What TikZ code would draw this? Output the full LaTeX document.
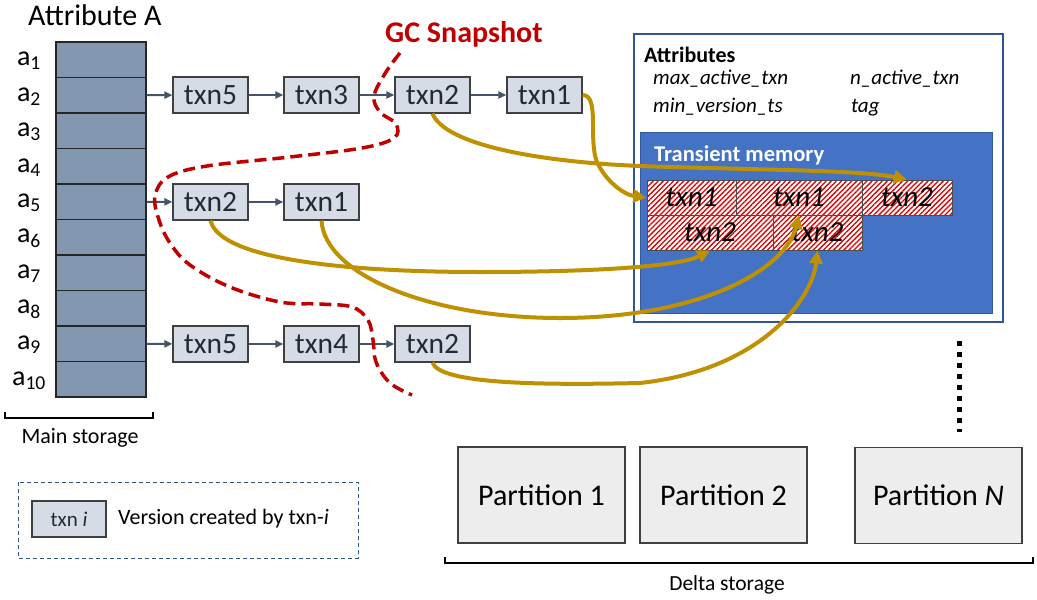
\documentclass[tikz,border=0pt]{standalone}
\usepackage{fontspec}
\setmainfont{Carlito}
\usetikzlibrary{shapes.geometric, arrows.meta, positioning, patterns.meta}
\definecolor{cellblue}{HTML}{8497B0}
\definecolor{txnfill}{HTML}{D6DCE5}
\definecolor{slate}{HTML}{44546A}
\definecolor{darktext}{HTML}{222A35}
\definecolor{gold}{HTML}{BF9000}
\definecolor{gcred}{HTML}{C00000}
\definecolor{tmblue}{HTML}{4472C4}
\definecolor{boxblue}{HTML}{2F5597}
\definecolor{partfill}{HTML}{EDEDED}
\newcommand{\fs}[1]{\fontsize{#1}{#1}\selectfont}

\begin{document}
\begin{tikzpicture}[x=1pt,y=-1pt]
		\tikzstyle{Cell} = [rectangle, minimum width=90pt, minimum height=35.5pt, inner sep=0pt, draw=black!85, line width=1.3pt, fill=cellblue]
		\tikzstyle{Txn} = [rectangle, minimum width=75pt, minimum height=36pt, inner sep=0pt, draw=black!75, line width=1.2pt, fill=txnfill, text=darktext, font=\fs{29.5}]
		\tikzstyle{Hatch} = [rectangle, minimum height=35pt, inner sep=0pt, draw=black!70, line width=1pt, preaction={fill=white}, pattern={Lines[angle=45,distance=3.6pt,line width=1.3pt]}, pattern color=red!85!black, font=\fs{29}\itshape]
		\tikzstyle{Part} = [rectangle, minimum width=167pt, minimum height=96pt, inner sep=0pt, draw=black!75, line width=1.2pt, fill=partfill, font=\fs{30}]
		\tikzstyle{arrow} = [slate, line width=2pt, -{Triangle[length=8pt,width=7pt]}]
		\tikzstyle{gold arrow} = [gold, line width=4pt, -{Triangle[length=13pt,width=13pt]}]
		\tikzstyle{gc line} = [gcred, line width=3.5pt, dash pattern=on 12pt off 6pt]
		\tikzstyle{Label} = [inner sep=0pt, font=\fs{28}]

		\useasboundingbox (0,0) rectangle (1037,600);

		% main storage
		\node [inner sep=0pt, anchor=base west, font=\fs{30}] at (28,25.5) {Attribute A};
		\node (m1) [Cell] at (101,59.75) {};
		\node (m2) [Cell] at (101,95.25) {};
		\node (m3) [Cell] at (101,130.75) {};
		\node (m4) [Cell] at (101,166.25) {};
		\node (m5) [Cell] at (101,201.75) {};
		\node (m6) [Cell] at (101,237.25) {};
		\node (m7) [Cell] at (101,272.75) {};
		\node (m8) [Cell] at (101,308.25) {};
		\node (m9) [Cell] at (101,343.75) {};
		\node (m10) [Cell] at (101,379.25) {};
		\node [Label] at (29,61) {a\textsubscript{1}};
		\node [Label] at (29,96.5) {a\textsubscript{2}};
		\node [Label] at (29,132) {a\textsubscript{3}};
		\node [Label] at (29,167.5) {a\textsubscript{4}};
		\node [Label] at (29,203) {a\textsubscript{5}};
		\node [Label] at (29,238.5) {a\textsubscript{6}};
		\node [Label] at (29,274) {a\textsubscript{7}};
		\node [Label] at (29,309.5) {a\textsubscript{8}};
		\node [Label] at (29,345) {a\textsubscript{9}};
		\node [Label] at (29,380.5) {a\textsubscript{10}};
		\draw [line width=2.5pt] (5,412) -- (5,418) -- (153,418) -- (153,412);
		\node [inner sep=0pt, font=\fs{22}] at (80,438) {Main storage};

		% version chains
		\node (a2t5) [Txn] at (210.5,95) {txn5};
		\node (a2t3) [Txn] at (321.5,95) {txn3};
		\node (a2t2) [Txn] at (432.5,95) {txn2};
		\node (a2t1) [Txn] at (544.5,95) {txn1};
		\node (a5t2) [Txn] at (210.5,202) {txn2};
		\node (a5t1) [Txn] at (321.5,202) {txn1};
		\node (a9t5) [Txn] at (210.5,344) {txn5};
		\node (a9t4) [Txn] at (321.5,344) {txn4};
		\node (a9t2) [Txn] at (432.5,344) {txn2};
		\draw [arrow] (m2) -- (a2t5);
		\draw [arrow] (a2t5) -- (a2t3);
		\draw [arrow] (a2t3) -- (a2t2);
		\draw [arrow] (a2t2) -- (a2t1);
		\draw [arrow] (m5) -- (a5t2);
		\draw [arrow] (a5t2) -- (a5t1);
		\draw [arrow] (m9) -- (a9t5);
		\draw [arrow] (a9t5) -- (a9t4);
		\draw [arrow] (a9t4) -- (a9t2);

		% partition with attributes and transient memory
		\draw [boxblue, line width=1.2pt] (634,34) rectangle (1003,322);
		\node [inner sep=0pt, anchor=base west, font=\fs{22}\bfseries] at (644,62) {Attributes};
		\node [inner sep=0pt, anchor=base west, font=\fs{21}\itshape] at (653,84) {max\_active\_txn};
		\node [inner sep=0pt, anchor=base west, font=\fs{21}\itshape] at (850,84) {n\_active\_txn};
		\node [inner sep=0pt, anchor=base west, font=\fs{21}\itshape] at (653,112) {min\_version\_ts};
		\node [inner sep=0pt, anchor=base west, font=\fs{21}\itshape] at (851,112) {tag};
		\draw [tmblue!80!black, fill=tmblue, line width=1pt] (640,132) rectangle (992,313);
		\node [inner sep=0pt, anchor=base west, text=white, font=\fs{22.5}\bfseries] at (654,161) {Transient memory};
		\node (hA) [Hatch, minimum width=89pt] at (691.5,197.5) {txn1};
		\node (hB) [Hatch, minimum width=126pt] at (799,197.5) {txn1};
		\node (hC) [Hatch, minimum width=90pt] at (907,197.5) {txn2};
		\node (hD) [Hatch, minimum width=126pt] at (710,232.5) {txn2};
		\node (hE) [Hatch, minimum width=89pt] at (817.5,232.5) {txn2};

		% versions moved to transient memory
		\draw [gold arrow] (a2t2.south) .. controls (445,145) and (540,162) .. (640,166) .. controls (760,170) and (860,170) .. (hC.north);
		\draw [gold arrow] (a2t1.east) .. controls (600,95) and (588,140) .. (597,162) .. controls (606,182) and (625,195) .. (hA.west);
		\draw [gold arrow] (a5t2.south) .. controls (220,260) and (350,272) .. (480,272) .. controls (600,272) and (680,266) .. (hD.south);
		\draw [gold arrow] (a5t1.south) .. controls (325,275) and (430,318) .. (560,318) .. controls (700,318) and (785,270) .. (hB.south);
		\draw [gold arrow] (a9t2.south) .. controls (440,385) and (550,385) .. (640,383) .. controls (760,370) and (812,300) .. (hE.south);

		% gc snapshot
		\draw [gc line] plot [smooth, tension=0.6] coordinates {(400,53) (386,72) (374,96) (380,112) (396,124) (394,138) (362,148) (290,157) (207,166) (168,177) (155,196) (159,220) (170,243) (190,265) (230,287) (280,302) (320,304) (352,307) (368,320) (373,340) (376,362) (390,383) (412,395)};
		\node [inner sep=0pt, anchor=base west, text=gcred, font=\fs{30}\bfseries] at (385,42) {GC Snapshot};

		% delta storage
		\draw [line width=5pt, dash pattern=on 5pt off 6pt] (959,341) -- (959,432);
		\node (p1) [Part] at (541.5,495) {Partition 1};
		\node (p2) [Part] at (723.5,495) {Partition 2};
		\node (pn) [Part] at (938.5,495.5) {Partition \textit{N}};
		\draw [line width=2.5pt] (445,557) -- (445,563) -- (1033,563) -- (1033,557);
		\node [inner sep=0pt, font=\fs{21.5}] at (727,585) {Delta storage};

		% legend
		\draw [boxblue, line width=1pt, dash pattern=on 4pt off 3pt] (18,482) rectangle (358,558);
		\node (lg) [Txn, minimum width=74pt, font=\fs{21}] at (69,519) {txn \textit{i}};
		\node [inner sep=0pt, anchor=west, font=\fs{22}] at (118,519) {Version created by txn-\textit{i}};
\end{tikzpicture}
\end{document}
